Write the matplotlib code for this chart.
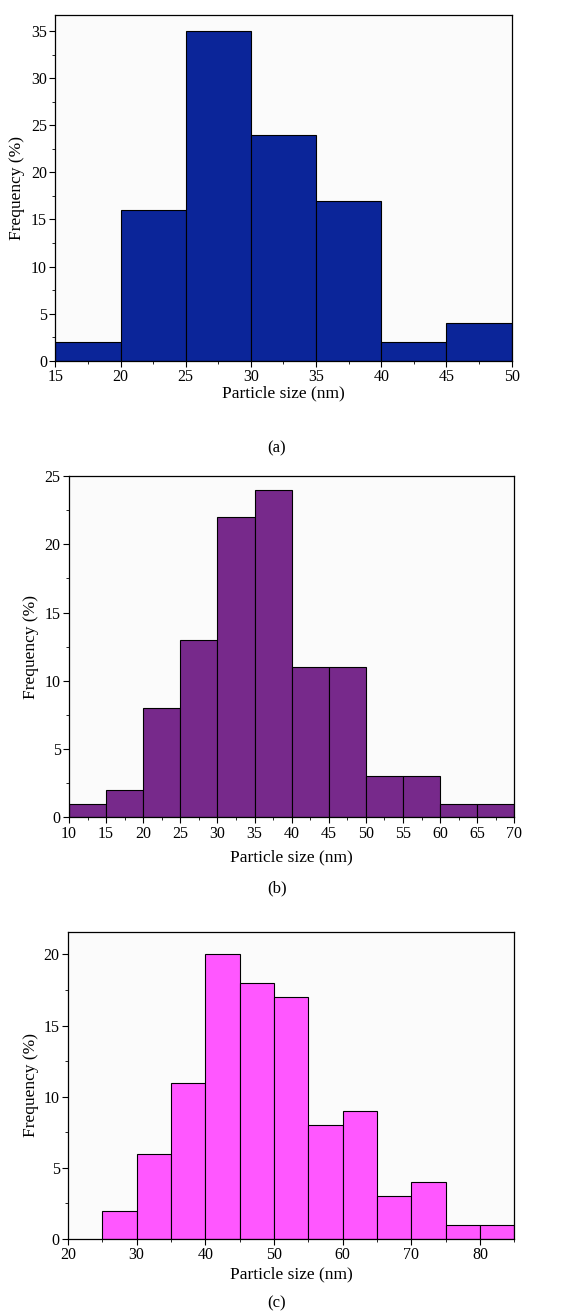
import numpy as np
import matplotlib
matplotlib.use("Agg")
import matplotlib.pyplot as plt
import matplotlib.ticker as mticker

plt.rcParams['font.family'] = ['Liberation Serif', 'DejaVu Serif']

# data: bin left edges (nm) and frequency (%)
edges_a = [15, 20, 25, 30, 35, 40, 45]
freq_a = [2, 16, 35, 24, 17, 2, 4]

edges_b = [10, 15, 20, 25, 30, 35, 40, 45, 50, 55, 60, 65]
freq_b = [1, 2, 8, 13, 22, 24, 11, 11, 3, 3, 1, 1]

edges_c = [25, 30, 35, 40, 45, 50, 55, 60, 65, 70, 75, 80]
freq_c = [2, 6, 11, 20, 18, 17, 8, 9, 3, 4, 1, 1]

bin_width = 5
captions = ['(a)', '(b)', '(c)']

W, H = 587, 1311
fig = plt.figure(figsize=(W / 100, H / 100), dpi=100)


def px_axes(left, top, right, bottom):
    # pixel box -> figure fraction
    return fig.add_axes((left / W, 1 - bottom / H, (right - left) / W, (bottom - top) / H))


def draw(ax, edges, freq, color, xlim, ylim, xstep, ystep, ylab_x, xlab_y, cap_y, cap):
    ax.bar(edges, freq, width=bin_width, align='edge', color=color,
           edgecolor='black', linewidth=0.8)
    ax.set_xlim(*xlim)
    ax.set_ylim(*ylim)
    ax.set_facecolor('#fbfbfb')
    ax.xaxis.set_major_locator(mticker.MultipleLocator(xstep))
    ax.xaxis.set_minor_locator(mticker.MultipleLocator(xstep / 2))
    ax.yaxis.set_major_locator(mticker.MultipleLocator(ystep))
    ax.yaxis.set_minor_locator(mticker.MultipleLocator(ystep / 2))
    ax.tick_params(which='major', direction='out', length=4, width=0.8,
                   labelsize=11.5, pad=2, top=False, right=False)
    ax.tick_params(which='minor', direction='out', length=2, width=0.6,
                   top=False, right=False)
    for s in ax.spines.values():
        s.set_linewidth(0.9)
    pos = ax.get_position()
    xc = (pos.x0 + pos.x1) / 2
    fig.text(xc, 1 - xlab_y / H, 'Particle size (nm)', ha='center', va='center', fontsize=12.5)
    fig.text(ylab_x / W, (pos.y0 + pos.y1) / 2, 'Frequency (%)', ha='center', va='center',
             rotation=90, fontsize=12.5)
    fig.text(277 / W, 1 - cap_y / H, cap, ha='center', va='center', fontsize=12)


ax_a = px_axes(55.3, 15, 511.7, 360.7)
draw(ax_a, edges_a, freq_a, '#0b2599', (15, 50), (0, 36.7), 5, 5, 17, 393, 448, captions[0])

ax_b = px_axes(69, 476, 514.3, 817.3)
draw(ax_b, edges_b, freq_b, '#77298b', (10, 70), (0, 25), 5, 5, 31, 857, 888, captions[1])

ax_c = px_axes(68, 931.7, 514.3, 1239)
draw(ax_c, edges_c, freq_c, '#ff57ff', (20, 85), (0, 21.6), 10, 5, 31, 1274, 1303, captions[2])

fig.savefig('out.png', dpi=100)
